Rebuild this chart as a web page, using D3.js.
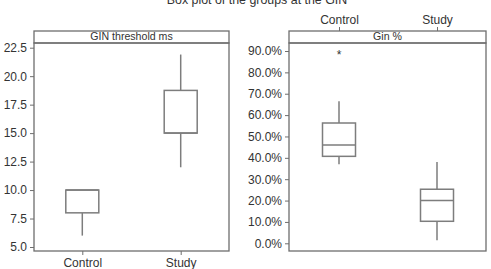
<!DOCTYPE html>
<html>
<head>
<meta charset="utf-8">
<script src="https://cdn.jsdelivr.net/npm/d3@7"></script>
<style>
  body { margin: 0; background: #fff; }
  text { font-family: "Liberation Sans", Arial, sans-serif; fill: #333; }
</style>
</head>
<body>
<div id="viz"></div>
<script>
// data
const groups = ["Control", "Study"];
// [min, q1, median, q3, max]
const thresholdStats = [[6, 8, 10, 10, 10], [12, 15, 15, 18.75, 21.9]];
const ginStats = [[0.37, 0.407, 0.46, 0.563, 0.665], [0.014, 0.103, 0.20, 0.253, 0.38]];
const ginOutliers = [[0.893], []];
const thresholdTicks = [5, 7.5, 10, 12.5, 15, 17.5, 20, 22.5];
const ginTicks = [0, 0.1, 0.2, 0.3, 0.4, 0.5, 0.6, 0.7, 0.8, 0.9];

const W = 491, H = 269;
const svg = d3.select("#viz").append("svg").attr("width", W).attr("height", H);

const frameCol = "#6e6e6e";
const boxCol = "#7d7d7d";
const font = '"Liberation Sans", Arial, sans-serif';

// title, mostly cut off at the top (as in the original)
svg.append("text")
    .attr("x", 257).attr("y", 4)
    .attr("text-anchor", "middle")
    .attr("font-size", 12.4)
    .text("Box plot of the groups at the GIN");

function panel(opts) {
    const { x0, x1, stripTop, top, bottom, label, stats, outliers, ticks, fmt, domain, xAxisTop } = opts;
    const g = svg.append("g");

    const y = d3.scaleLinear().domain(domain).range(opts.yRange);
    const x = d3.scalePoint().domain(groups).range(opts.xRange);

    // strip
    g.append("rect")
        .attr("x", x0).attr("y", stripTop)
        .attr("width", x1 - x0).attr("height", top - stripTop)
        .attr("fill", "#fff").attr("stroke", frameCol).attr("stroke-width", 1.3);
    g.append("text")
        .attr("x", (x0 + x1) / 2).attr("y", top - 3)
        .attr("text-anchor", "middle").attr("font-size", 10.6)
        .text(label);

    // frame
    g.append("rect")
        .attr("x", x0).attr("y", top)
        .attr("width", x1 - x0).attr("height", bottom - top)
        .attr("fill", "none").attr("stroke", frameCol).attr("stroke-width", 1.3);

    // y axis
    const yAxis = g.append("g")
        .attr("transform", `translate(${x0},0)`)
        .call(d3.axisLeft(y).tickValues(ticks).tickFormat(fmt).tickSize(4).tickPadding(3));
    yAxis.select(".domain").remove();
    yAxis.selectAll("line").attr("stroke", frameCol);
    yAxis.selectAll("text").attr("font-size", 12).attr("fill", "#333")
        .style("font-family", font);

    // x axis
    const xAxis = g.append("g")
        .attr("transform", `translate(0,${xAxisTop ? stripTop : bottom})`)
        .call((xAxisTop ? d3.axisTop(x) : d3.axisBottom(x)).tickSize(4).tickPadding(3));
    xAxis.select(".domain").remove();
    xAxis.selectAll("line").attr("stroke", frameCol);
    xAxis.selectAll("text").attr("font-size", 12).attr("fill", "#333")
        .style("font-family", font);

    const bw = opts.boxWidth;
    const boxes = g.selectAll(".bx").data(stats).join("g").attr("class", "bx")
        .attr("transform", (d, i) => `translate(${x(groups[i])},0)`);

    boxes.append("line")
        .attr("x1", 0).attr("x2", 0)
        .attr("y1", d => y(d[3])).attr("y2", d => y(d[4]))
        .attr("stroke", boxCol).attr("stroke-width", 1.5);
    boxes.append("line")
        .attr("x1", 0).attr("x2", 0)
        .attr("y1", d => y(d[1])).attr("y2", d => y(d[0]))
        .attr("stroke", boxCol).attr("stroke-width", 1.5);
    boxes.append("rect")
        .attr("x", -bw / 2).attr("width", bw)
        .attr("y", d => y(d[3])).attr("height", d => y(d[1]) - y(d[3]))
        .attr("fill", "#fff").attr("stroke", boxCol).attr("stroke-width", 1.5);
    boxes.append("line")
        .attr("x1", -bw / 2).attr("x2", bw / 2)
        .attr("y1", d => y(d[2])).attr("y2", d => y(d[2]))
        .attr("stroke", boxCol).attr("stroke-width", 1.5);

    if (outliers) {
        outliers.forEach((arr, i) => {
            arr.forEach(v => {
                g.append("text")
                    .attr("x", x(groups[i])).attr("y", y(v) + 7)
                    .attr("text-anchor", "middle").attr("font-size", 12)
                    .attr("fill", "#333")
                    .text("*");
            });
        });
    }
}

panel({
    x0: 34, x1: 229, stripTop: 31, top: 43, bottom: 251,
    label: "GIN threshold ms",
    stats: thresholdStats,
    ticks: thresholdTicks,
    fmt: d3.format(".1f"),
    domain: [5, 22.5], yRange: [247, 47.7],
    xRange: [82.3, 180.7],
    boxWidth: 33,
    xAxisTop: false
});

panel({
    x0: 289, x1: 486, stripTop: 31, top: 43, bottom: 251,
    label: "Gin %",
    stats: ginStats,
    outliers: ginOutliers,
    ticks: ginTicks,
    fmt: d3.format(".1%"),
    domain: [0, 0.9], yRange: [243.3, 51],
    xRange: [339, 437],
    boxWidth: 33,
    xAxisTop: true
});
</script>
</body>
</html>
